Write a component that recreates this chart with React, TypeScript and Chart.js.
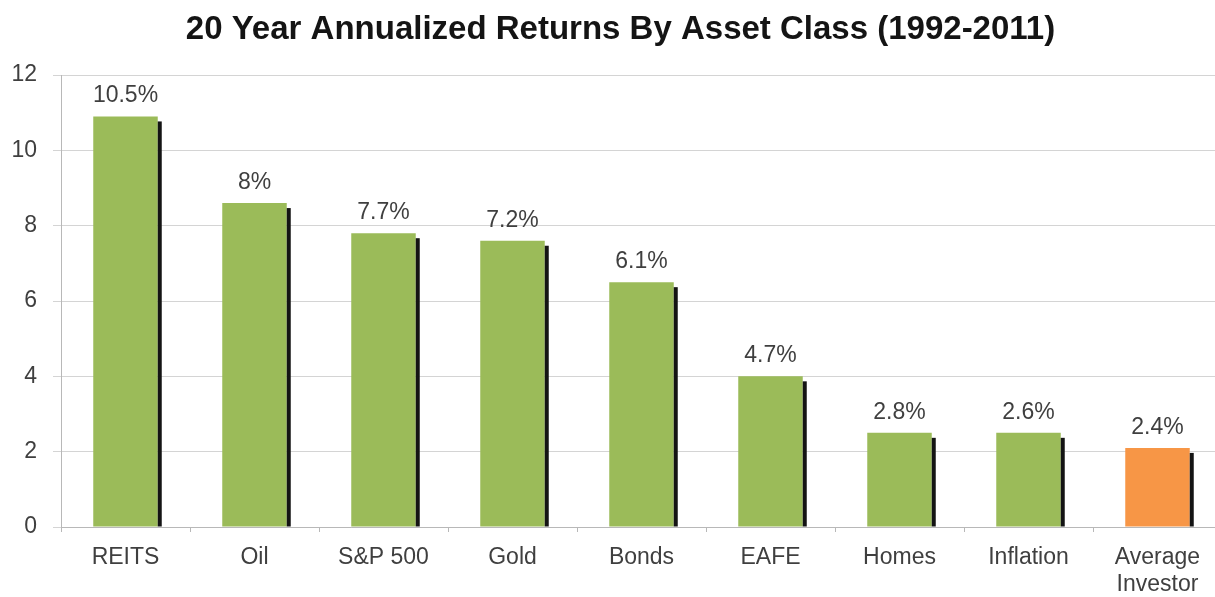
import React, { useEffect, useRef } from "react";
import { Chart, registerables } from "chart.js";

Chart.register(...registerables);

const categories: (string | string[])[] = [
  "REITS",
  "Oil",
  "S&P 500",
  "Gold",
  "Bonds",
  "EAFE",
  "Homes",
  "Inflation",
  ["Average", "Investor"],
];
const barValues = [10.9, 8.6, 7.8, 7.6, 6.5, 4.0, 2.5, 2.5, 2.1];
const valueLabels = ["10.5%", "8%", "7.7%", "7.2%", "6.1%", "4.7%", "2.8%", "2.6%", "2.4%"];
const barColors = [
  "#9BBB59",
  "#9BBB59",
  "#9BBB59",
  "#9BBB59",
  "#9BBB59",
  "#9BBB59",
  "#9BBB59",
  "#9BBB59",
  "#F79646",
];
const chartTitle = "20 Year Annualized Returns By Asset Class (1992-2011)";

const FONT = "'Liberation Sans', Arial, sans-serif";
const TEXT = "#3f3f3f";

const shadowAndLabels = {
  id: "shadowAndLabels",
  afterDatasetsDraw(chart: any) {
    const ctx = chart.ctx;
    const meta = chart.getDatasetMeta(0);
    ctx.save();
    meta.data.forEach((bar: any, i: number) => {
      const props = bar.getProps(["x", "y", "base", "width"], true);
      ctx.fillStyle = "#141414";
      const sx = props.x + props.width / 2;
      const sy = props.y + 5;
      ctx.fillRect(sx, sy, 4, props.base - sy);
      ctx.fillStyle = TEXT;
      ctx.font = `23px ${FONT}`;
      ctx.textAlign = "center";
      ctx.textBaseline = "alphabetic";
      ctx.fillText(valueLabels[i], props.x, props.y - 14);
    });
    ctx.restore();
  },
};

export default function App() {
  const canvasRef = useRef<HTMLCanvasElement | null>(null);

  useEffect(() => {
    if (!canvasRef.current) return;
    const chart = new Chart(canvasRef.current, {
      type: "bar",
      data: {
        labels: categories,
        datasets: [
          {
            data: barValues,
            backgroundColor: barColors,
            borderWidth: 0,
            barPercentage: 0.5,
            categoryPercentage: 1,
            yAxisID: "y",
          },
        ],
      },
      options: {
        animation: false,
        responsive: true,
        maintainAspectRatio: false,
        layout: { padding: 0 },
        plugins: {
          legend: { display: false },
          tooltip: { enabled: false },
          title: {
            display: true,
            text: chartTitle,
            color: "#141414",
            font: { family: FONT, size: 33, weight: "bold", lineHeight: 1.2 },
            padding: { top: 10, bottom: 25.4 },
          },
        },
        scales: {
          x: {
            grid: {
              display: true,
              drawOnChartArea: false,
              drawTicks: true,
              tickLength: 5,
              offset: true,
              color: "#b8b8b8",
            },
            border: { display: true, color: "#b8b8b8", width: 1 },
            ticks: {
              color: TEXT,
              font: { family: FONT, size: 23, lineHeight: 1.17 },
              padding: 12.5,
              maxRotation: 0,
              autoSkip: false,
            },
            afterFit(scale: any) {
              scale.height = 70;
            },
          },
          y: {
            min: 0,
            max: 12,
            ticks: {
              stepSize: 2,
              color: TEXT,
              font: { family: FONT, size: 23 },
              padding: 16,
            },
            grid: {
              color: "#d4d4d4",
              drawTicks: true,
              tickLength: 8,
            },
            border: { display: true, color: "#b8b8b8", width: 1 },
            afterFit(scale: any) {
              scale.width = 61;
            },
          },
          y2: {
            type: "linear",
            position: "right",
            display: true,
            ticks: { display: false },
            grid: { display: false, drawTicks: false },
            border: { display: false },
            afterFit(scale: any) {
              scale.width = 19;
            },
          },
        },
      },
      plugins: [shadowAndLabels],
    });
    return () => chart.destroy();
  }, []);

  return (
    <div
      style={{
        position: "fixed",
        left: 0,
        top: 0,
        width: 1215,
        height: 597,
        overflow: "hidden",
        background: "#ffffff",
      }}
    >
      <div style={{ position: "relative", width: 1241, height: 597 }}>
        <canvas ref={canvasRef} />
      </div>
    </div>
  );
}
